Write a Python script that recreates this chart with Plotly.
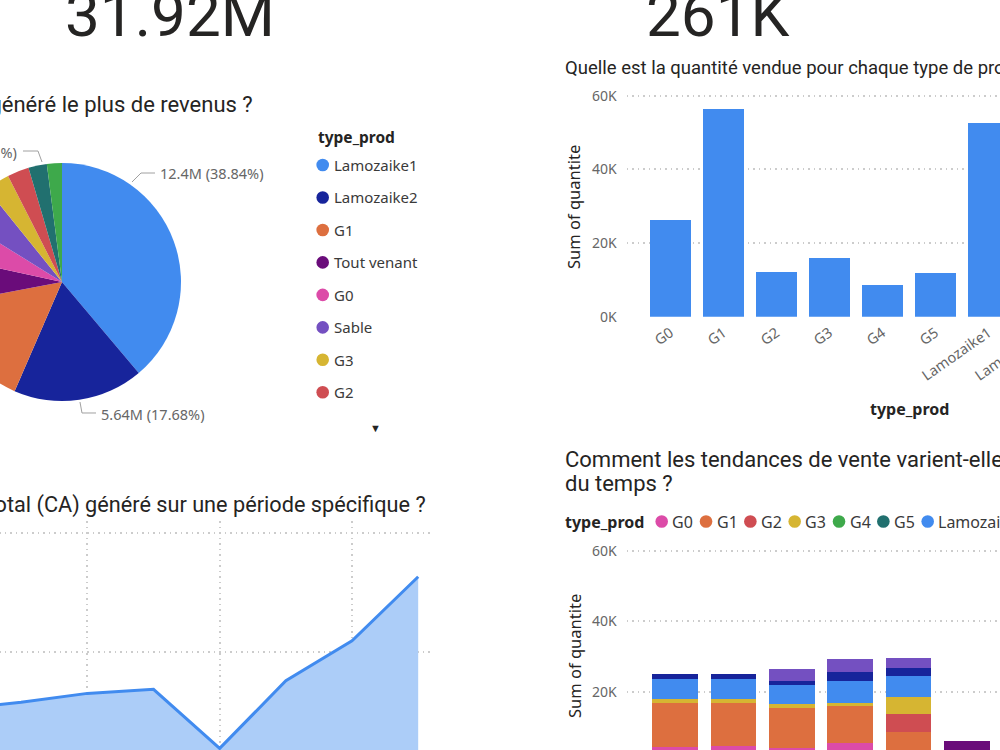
import plotly.graph_objects as go

# ---------------- data ----------------
kpi_revenue_label = "31.92M"
kpi_quantity_label = "261K"

pie_products = ["Lamozaike1", "Lamozaike2", "G1", "Tout venant", "G0", "Sable", "G3", "G2", "G5", "G4"]
pie_revenue_m = [12.398, 5.643, 4.95, 2.04, 1.74, 1.71, 1.05, 0.94, 0.80, 0.65]

bar_products = ["G0", "G1", "G2", "G3", "G4", "G5", "Lamozaike1", "Lamozaike2", "Sable", "Tout venant"]
bar_quantity = [26200, 56500, 12100, 16000, 8700, 11900, 52700, 22000, 30900, 24000]

line_months = ["mai", "juin", "juil.", "août", "sept.", "oct.", "nov.", "déc."]
line_revenue_m = [2.60, 2.89, 3.26, 3.43, 0.95, 3.79, 5.47, 8.16]

stack_months = ["janv.", "févr.", "mars", "avr.", "mai", "juin"]
stack_products = ["G0", "G1", "G2", "G3", "G4", "G5", "Lamozaike1", "Lamozaike2", "Sable", "Tout venant"]
stack_G0 = [4500, 4600, 4200, 5500, 1800, 0]
stack_G1 = [12300, 12300, 11200, 10400, 7000, 0]
stack_G2 = [0, 0, 0, 0, 5000, 0]
stack_G3 = [1200, 1200, 1100, 1100, 4900, 0]
stack_G4 = [0, 0, 0, 0, 0, 0]
stack_G5 = [0, 0, 0, 0, 0, 0]
stack_Lamozaike1 = [5600, 5600, 5500, 6200, 5800, 0]
stack_Lamozaike2 = [1500, 1500, 1200, 2500, 2200, 0]
stack_Sable = [0, 0, 3300, 3500, 2800, 0]
stack_Tout_venant = [0, 0, 0, 0, 0, 6200]

qty_tick_vals = [0, 20000, 40000, 60000]
qty_tick_text = ["0K", "20K", "40K", "60K"]

colors = {
    "Lamozaike1": "#418BEF", "Lamozaike2": "#17249B", "G1": "#DD6F3F",
    "Tout venant": "#6A0C7A", "G0": "#DC4BA8", "Sable": "#7450C1",
    "G3": "#D6B532", "G2": "#CF4D52", "G5": "#21706F", "G4": "#3EA94B",
}

# ---------------- canvas helpers (page is a crop of a larger dashboard) ----------------
W, H = 1350, 850
OX, OY = 100, 40


def fx(sx):
    return (sx + OX) / W


def fy(sy):
    return 1 - (sy + OY) / H


TITLE_FONT = "Roboto, DejaVu Sans, sans-serif"
UI_FONT = "Segoe UI, Noto Sans, Open Sans, sans-serif"
DARK = "#252423"
GREY = "#666666"
GRID = "#cccccc"
GRID_DASH = "1.5px,4px"

stack_values = {
    "G0": stack_G0, "G1": stack_G1, "G2": stack_G2, "G3": stack_G3, "G4": stack_G4,
    "G5": stack_G5, "Lamozaike1": stack_Lamozaike1, "Lamozaike2": stack_Lamozaike2,
    "Sable": stack_Sable, "Tout venant": stack_Tout_venant,
}

fig = go.Figure()

# Pie
fig.add_trace(go.Pie(
    labels=pie_products, values=pie_revenue_m, sort=False, direction="clockwise",
    rotation=0, textinfo="none", marker=dict(colors=[colors[p] for p in pie_products], line=dict(width=0)),
    domain=dict(x=[fx(-57), fx(181)], y=[fy(401), fy(163)]), showlegend=False,
))

# Bar chart: quantity per product
fig.add_trace(go.Bar(
    x=bar_products, y=bar_quantity, marker=dict(color=colors["Lamozaike1"], line=dict(width=0)),
    xaxis="x", yaxis="y", showlegend=False,
))

# Stacked bars over time
for p in stack_products:
    fig.add_trace(go.Bar(
        x=stack_months, y=stack_values[p], name=p, marker=dict(color=colors[p], line=dict(width=0)),
        xaxis="x2", yaxis="y2", showlegend=False,
    ))

# Area chart: revenue over time
fig.add_trace(go.Scatter(
    x=line_months, y=line_revenue_m, mode="lines", line=dict(color="#418BEF", width=3),
    fill="tozeroy", fillcolor="#ACCDF8", xaxis="x3", yaxis="y3", showlegend=False,
))

# axis ranges computed from pixel layout
bar_c0, bar_step = 670.5, 53.0
stk_c0, stk_step = 675.0, 58.4
line_c0, line_step = -45.0, 66.17

axis_common = dict(automargin=False, showline=False, zeroline=False, ticks="")
grid = dict(showgrid=True, gridcolor=GRID, griddash=GRID_DASH, gridwidth=1.5)

fig.update_layout(
    width=W, height=H, margin=dict(l=0, r=0, t=0, b=0, pad=0),
    paper_bgcolor="white", plot_bgcolor="white",
    barmode="stack", bargap=0.22, showlegend=False,
    font=dict(family=UI_FONT, color=DARK),
    xaxis=dict(domain=[fx(626.7), fx(1180)], anchor="y",
               range=[(626.7 - bar_c0) / bar_step, (1180 - bar_c0) / bar_step],
               tickangle=-35, tickfont=dict(size=14.5, color=GREY), ticklabelstandoff=4,
               showgrid=False, **axis_common),
    yaxis=dict(domain=[fy(316.7), fy(316.7 - 61 * 221 / 60)], anchor="x", range=[0, 61000],
               tickvals=qty_tick_vals, ticktext=qty_tick_text, tickfont=dict(size=14, color=GREY),
               ticklabelstandoff=9, **grid, **axis_common),
    xaxis2=dict(domain=[fx(626.7), fx(1180)], anchor="y2",
                range=[(626.7 - stk_c0) / stk_step, (1180 - stk_c0) / stk_step],
                tickfont=dict(size=14, color=GREY), showgrid=False, **axis_common),
    yaxis2=dict(domain=[fy(762.7), fy(762.7 - 61 * 3.535)], anchor="x2", range=[0, 61000],
                tickvals=qty_tick_vals, ticktext=qty_tick_text, tickfont=dict(size=14, color=GREY),
                ticklabelstandoff=9, **grid, **axis_common),
    xaxis3=dict(domain=[fx(-100), fx(430)], anchor="y3",
                range=[(-100 - line_c0) / line_step, (430 - line_c0) / line_step],
                tickvals=line_months[::2], tickfont=dict(size=14, color=GREY), **grid, **axis_common),
    yaxis3=dict(domain=[fy(771), fy(521)], anchor="x3", range=[0, 10.5], dtick=5,
                ticksuffix="M", tickfont=dict(size=14, color=GREY), **grid, **axis_common),
)

annotations = []
shapes = []


def text(t, sx, sy, size, color=DARK, family=UI_FONT, xanchor="left", yanchor="middle", angle=0, weight="normal"):
    annotations.append(dict(
        text=t, x=fx(sx), y=fy(sy), xref="paper", yref="paper", xanchor=xanchor, yanchor=yanchor,
        align="left", showarrow=False, textangle=angle,
        font=dict(size=size, color=color, family=family, weight=weight),
    ))


def dot(sx, sy, color, r=6.3):
    shapes.append(dict(type="circle", xref="paper", yref="paper", x0=fx(sx - r), x1=fx(sx + r),
                       y0=fy(sy + r), y1=fy(sy - r), fillcolor=color, line=dict(width=0)))


def leader(points):
    path = "M " + " L ".join(f"{fx(a):.5f},{fy(b):.5f}" for a, b in points)
    shapes.append(dict(type="path", xref="paper", yref="paper", path=path, line=dict(color="#a0a0a0", width=1)))


# KPI cards
text(kpi_revenue_label, 170, 53, 62, family=TITLE_FONT, xanchor="center", yanchor="bottom")
text(kpi_quantity_label, 718, 53, 62, family=TITLE_FONT, xanchor="center", yanchor="bottom")

# Titles
text("Quel type de produit a généré le plus de revenus ?", 255, 104, 22, family=TITLE_FONT, xanchor="right")
text("Quel est le chiffre d'affaires total (CA) généré sur une période spécifique ?", 428, 505, 21.7,
     family=TITLE_FONT, xanchor="right")
text("Quelle est la quantité vendue pour chaque type de produit ?", 563, 68, 18.5, family=TITLE_FONT)
text("Comment les tendances de vente varient-elles au cours", 563, 459, 22, family=TITLE_FONT)
text("du temps ?", 563, 483, 22, family=TITLE_FONT)

# Axis titles
text("Sum of quantite", 574, 207, 16.5, angle=-90, xanchor="center")
text("Sum of quantite", 574, 656, 16.5, angle=-90, xanchor="center")
text("type_prod", 909, 409, 16, xanchor="center", weight="bold")

# Pie data labels
total_rev = sum(pie_revenue_m)


def pie_label(i):
    v = pie_revenue_m[i]
    return f"{v:.3g}M ({v / total_rev * 100:.2f}%)"


text(pie_label(0), 158, 173, 14.5, color=GREY)
leader([(155, 173), (141, 173), (132, 182)])
text(pie_label(1), 99, 414, 14.5, color=GREY)
leader([(96, 413), (82, 413), (80, 402)])
text(pie_label(8), 19, 152, 14.5, color=GREY, xanchor="right")
leader([(23, 151), (38, 151), (42, 162)])

# Pie legend (first 8 entries visible, rest behind scroll arrow)
text("type_prod", 316, 137, 15.5, weight="bold")
for i, p in enumerate(pie_products[:8]):
    y = 165 + 32.47 * i
    dot(322.7, y, colors[p])
    text(p, 332, y, 15, color="#3a3a3a")
text("▼", 376, 428, 11, color=DARK, xanchor="center")

# Stacked chart legend
text("type_prod", 563, 521.5, 16, weight="bold")
lx = 661.7
for p in stack_products:
    dot(lx, 521.5, colors[p])
    text(p, lx + 8.5, 521.5, 16, color="#3a3a3a")
    lx += 44.33 if len(p) <= 2 else len(p) * 9.2 + 22

fig.update_layout(annotations=annotations, shapes=shapes)

post = (
    "var gd=document.getElementById('{plot_id}');"
    "gd.style.position='absolute';gd.style.left='-%dpx';gd.style.top='-%dpx';"
    "document.body.style.margin='0';document.body.style.overflow='hidden';"
    "document.documentElement.style.overflow='hidden';" % (OX, OY)
)
fig.write_html("out.html", config={"displayModeBar": False}, post_script=post)
